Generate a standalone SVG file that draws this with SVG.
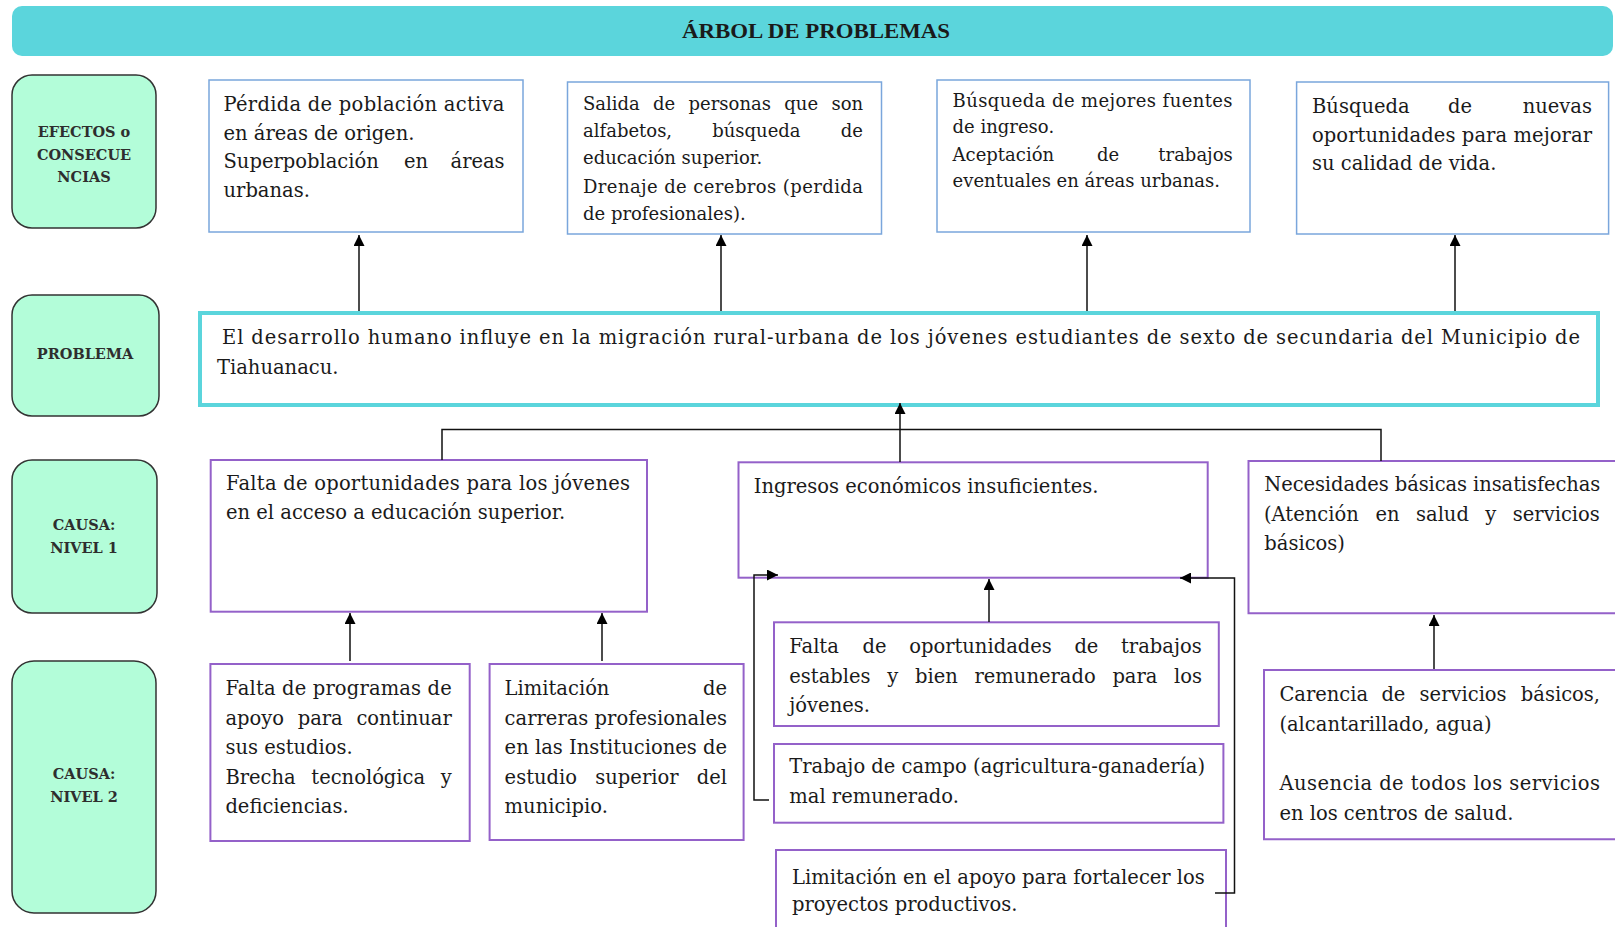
<svg xmlns="http://www.w3.org/2000/svg" width="1615" height="927" viewBox="0 0 1615 927">
<defs>
<style>
.lbl{fill:#b3fdd9;stroke:#333;stroke-width:1.5}
.lt{font-family:"DejaVu Serif",serif;font-weight:bold;font-size:14.5px;fill:#2e2e2e;text-anchor:middle}
.eff{fill:#fff;stroke:#7aa6dc;stroke-width:1.5}
.cau{fill:#fff;stroke:#9461c9;stroke-width:2}
.t{font-family:"DejaVu Serif",serif;font-size:19.5px;fill:#1a1a1a}
.s{font-family:"DejaVu Serif",serif;font-size:18px;fill:#1a1a1a}
.c{fill:none;stroke:#111;stroke-width:1.5}
</style>
<marker id="ah" viewBox="0 0 10 10" refX="10" refY="5" markerWidth="13" markerHeight="11" markerUnits="userSpaceOnUse" orient="auto">
<path d="M0,0 L10,5 L0,10 z" fill="#000"/>
</marker>
</defs>
<rect width="1615" height="927" fill="#fff"/>

<g id="title">
<rect x="12" y="6" width="1601" height="50" rx="10" fill="#5bd5dc"/>
<text x="816" y="38" text-anchor="middle" font-family="Liberation Serif, serif" font-weight="bold" font-size="20" fill="#1a1a1a" textLength="268" lengthAdjust="spacingAndGlyphs">ÁRBOL DE PROBLEMAS</text>
</g>

<g id="label-efectos">
<rect class="lbl" x="12" y="75" width="144" height="153" rx="20"/>
<text class="lt" x="84" y="137">EFECTOS o</text>
<text class="lt" x="84" y="160">CONSECUE</text>
<text class="lt" x="84" y="182">NCIAS</text>
</g>
<g id="label-problema">
<rect class="lbl" x="12" y="295" width="147" height="121" rx="20"/>
<text class="lt" x="85" y="359">PROBLEMA</text>
</g>
<g id="label-causa1">
<rect class="lbl" x="12" y="460" width="145" height="153" rx="20"/>
<text class="lt" x="84" y="530">CAUSA:</text>
<text class="lt" x="84" y="553">NIVEL 1</text>
</g>
<g id="label-causa2">
<rect class="lbl" x="12" y="661" width="144" height="252" rx="22"/>
<text class="lt" x="84" y="779">CAUSA:</text>
<text class="lt" x="84" y="802">NIVEL 2</text>
</g>

<g id="efecto1">
<rect class="eff" x="209" y="80" width="314" height="152"/>
<text class="t" x="223.5" y="111" textLength="281" lengthAdjust="spacing">Pérdida de población activa</text>
<text class="t" x="223.5" y="140">en áreas de origen.</text>
<text class="t" y="168"><tspan x="223.5">Superpoblación</tspan><tspan x="404">en</tspan><tspan x="450.5">áreas</tspan></text>
<text class="t" x="223.5" y="197">urbanas.</text>
</g>
<g id="efecto2">
<rect class="eff" x="567.5" y="82" width="314" height="152"/>
<text class="s" y="110"><tspan x="583">Salida</tspan><tspan x="653.1">de</tspan><tspan x="688.6">personas</tspan><tspan x="784.3">que</tspan><tspan x="831.4">son</tspan></text>
<text class="s" y="137"><tspan x="583">alfabetos,</tspan><tspan x="712.2">búsqueda</tspan><tspan x="840.8">de</tspan></text>
<text class="s" x="583" y="164">educación superior.</text>
<text class="s" x="583" y="193" textLength="280" lengthAdjust="spacing">Drenaje de cerebros (perdida</text>
<text class="s" x="583" y="220">de profesionales).</text>
</g>
<g id="efecto3">
<rect class="eff" x="937" y="80" width="313" height="152"/>
<text class="s" x="952.6" y="107" textLength="280" lengthAdjust="spacing">Búsqueda de mejores fuentes</text>
<text class="s" x="952.6" y="133">de ingreso.</text>
<text class="s" y="161"><tspan x="952.6">Aceptación</tspan><tspan x="1097">de</tspan><tspan x="1158.3">trabajos</tspan></text>
<text class="s" x="952.6" y="187">eventuales en áreas urbanas.</text>
</g>
<g id="efecto4">
<rect class="eff" x="1296.6" y="82" width="312" height="152"/>
<text class="t" y="113"><tspan x="1312">Búsqueda</tspan><tspan x="1448">de</tspan><tspan x="1522.7">nuevas</tspan></text>
<text class="t" x="1312" y="142" textLength="280" lengthAdjust="spacing">oportunidades para mejorar</text>
<text class="t" x="1312" y="170">su calidad de vida.</text>
</g>

<g id="problema">
<rect x="200" y="313" width="1398" height="92" fill="#fff" stroke="#5bd5dc" stroke-width="4"/>
<text class="t" x="222" y="344" textLength="1358" lengthAdjust="spacing">El desarrollo humano influye en la migración rural-urbana de los jóvenes estudiantes de sexto de secundaria del Municipio de</text>
<text class="t" x="217" y="374">Tiahuanacu.</text>
</g>

<g id="causa1-a">
<rect class="cau" x="210.7" y="460" width="436.3" height="151.7"/>
<text class="t" x="226" y="490" textLength="404" lengthAdjust="spacing">Falta de oportunidades para los jóvenes</text>
<text class="t" x="226" y="519">en el acceso a educación superior.</text>
</g>
<g id="causa1-b">
<rect class="cau" x="738.5" y="462.3" width="469.2" height="115.4"/>
<text class="t" x="753.7" y="493">Ingresos económicos insuficientes.</text>
</g>
<g id="causa1-c">
<path class="cau" d="M1620,461 H1248.5 V613.3 H1620"/>
<text class="t" x="1264.3" y="491" textLength="336" lengthAdjust="spacing">Necesidades básicas insatisfechas</text>
<text class="t" y="521"><tspan x="1264">(Atención</tspan><tspan x="1375.5">en</tspan><tspan x="1416">salud</tspan><tspan x="1485.3">y</tspan><tspan x="1512.8">servicios</tspan></text>
<text class="t" x="1264.3" y="550">básicos)</text>
</g>

<g id="causa2-a">
<rect class="cau" x="210.4" y="664" width="259.3" height="177"/>
<text class="t" x="225.4" y="695" textLength="226.4" lengthAdjust="spacing">Falta de programas de</text>
<text class="t" y="725"><tspan x="225.4">apoyo</tspan><tspan x="297.7">para</tspan><tspan x="356.4">continuar</tspan></text>
<text class="t" x="225.4" y="754">sus estudios.</text>
<text class="t" y="784"><tspan x="225.4">Brecha</tspan><tspan x="311.3">tecnológica</tspan><tspan x="440.8">y</tspan></text>
<text class="t" x="225.4" y="813">deficiencias.</text>
</g>
<g id="causa2-b">
<rect class="cau" x="489.6" y="664" width="254" height="176"/>
<text class="t" y="695"><tspan x="504.6">Limitación</tspan><tspan x="703">de</tspan></text>
<text class="t" x="504.6" y="725" textLength="222.4" lengthAdjust="spacing">carreras profesionales</text>
<text class="t" x="504.6" y="754" textLength="222.4" lengthAdjust="spacing">en las Instituciones de</text>
<text class="t" y="784"><tspan x="504.6">estudio</tspan><tspan x="595.3">superior</tspan><tspan x="696.7">del</tspan></text>
<text class="t" x="504.6" y="813">municipio.</text>
</g>
<g id="causa2-c">
<rect class="cau" x="774" y="622.3" width="444.8" height="103.7"/>
<text class="t" y="653"><tspan x="789.3">Falta</tspan><tspan x="862.5">de</tspan><tspan x="909.2">oportunidades</tspan><tspan x="1074.4">de</tspan><tspan x="1121">trabajos</tspan></text>
<text class="t" y="683"><tspan x="789.3">estables</tspan><tspan x="887.3">y</tspan><tspan x="915">bien</tspan><tspan x="974.5">remunerado</tspan><tspan x="1112.4">para</tspan><tspan x="1174.1">los</tspan></text>
<text class="t" x="789.3" y="712">jóvenes.</text>
</g>
<g id="causa2-d">
<rect class="cau" x="774" y="744" width="449.4" height="78.7"/>
<text class="t" x="789.3" y="773">Trabajo de campo (agricultura-ganadería)</text>
<text class="t" x="789.3" y="803">mal remunerado.</text>
</g>
<g id="causa2-e">
<rect class="cau" x="776" y="850" width="450" height="90"/>
<text class="t" x="792" y="884">Limitación en el apoyo para fortalecer los</text>
<text class="t" x="792" y="911">proyectos productivos.</text>
</g>
<g id="causa2-f">
<path class="cau" d="M1620,670 H1264 V839.3 H1620"/>
<text class="t" y="701"><tspan x="1279.4">Carencia</tspan><tspan x="1381.4">de</tspan><tspan x="1419.6">servicios</tspan><tspan x="1520.8">básicos,</tspan></text>
<text class="t" x="1279.4" y="731">(alcantarillado, agua)</text>
<text class="t" x="1279.4" y="790" textLength="320.6" lengthAdjust="spacing">Ausencia de todos los servicios</text>
<text class="t" x="1279.4" y="820">en los centros de salud.</text>
</g>

<g id="connectors">
<path class="c" d="M359,311 V235" marker-end="url(#ah)"/>
<path class="c" d="M721,311 V235" marker-end="url(#ah)"/>
<path class="c" d="M1087,311 V235" marker-end="url(#ah)"/>
<path class="c" d="M1455,311 V235" marker-end="url(#ah)"/>
<path class="c" d="M900,462 V403" marker-end="url(#ah)"/>
<path class="c" d="M442,460 V429.5 H1381 V461"/>
<path class="c" d="M350,661 V613" marker-end="url(#ah)"/>
<path class="c" d="M602,661 V613" marker-end="url(#ah)"/>
<path class="c" d="M989,622 V579" marker-end="url(#ah)"/>
<path class="c" d="M769,800 H754 V575 H778" marker-end="url(#ah)"/>
<path class="c" d="M1215,893 H1234.5 V578 H1180" marker-end="url(#ah)"/>
<path class="c" d="M1434,669 V615" marker-end="url(#ah)"/>
</g>
</svg>
